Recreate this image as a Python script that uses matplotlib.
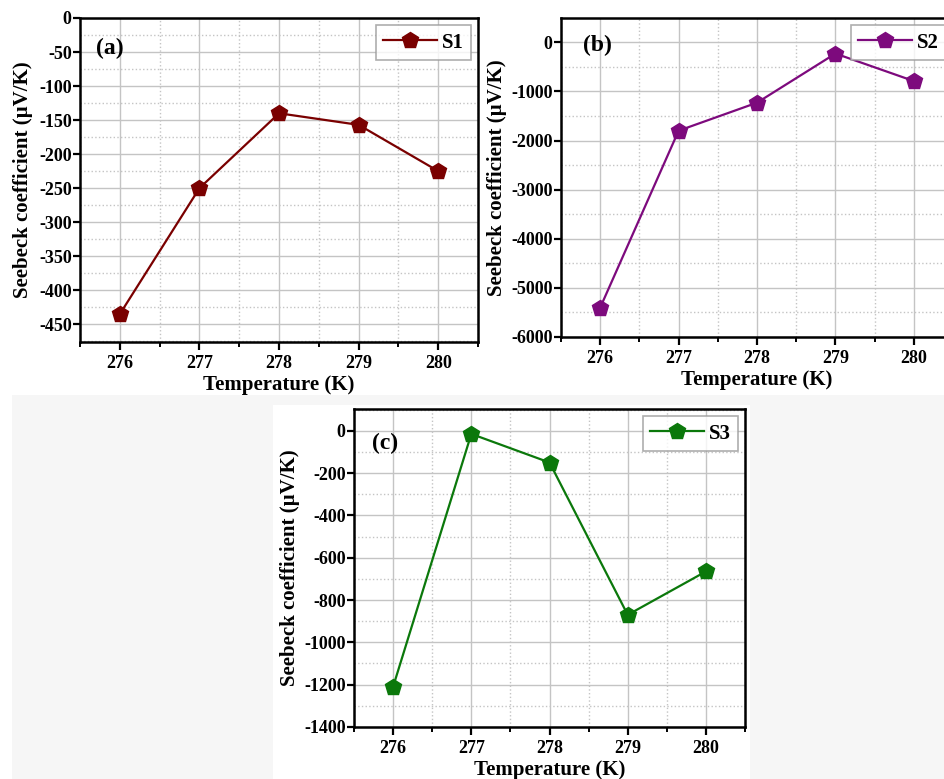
import matplotlib
matplotlib.use("Agg")
from matplotlib import pyplot as plt
from matplotlib.patches import Rectangle
from matplotlib.ticker import MultipleLocator

temps = [276, 277, 278, 279, 280]
s1 = [-435, -250, -140, -157, -225]
s2 = [-5400, -1800, -1230, -230, -790]
s3 = [-1210, -15, -150, -870, -665]

plt.rcParams['font.family'] = ['Liberation Serif', 'DejaVu Serif']
plt.rcParams['font.weight'] = 'bold'
plt.rcParams['axes.labelweight'] = 'bold'
plt.rcParams['axes.unicode_minus'] = False

fig = plt.figure(figsize=(9.45, 7.79), dpi=100)

# grey backdrop behind panel (c) with a white card on it
fig.patches.append(Rectangle((0.0127, 0), 0.9873, 0.4929, transform=fig.transFigure,
                             facecolor='#f6f6f6', edgecolor='none', zorder=-2))
fig.patches.append(Rectangle((0.2889, 0), 0.5048, 0.4801, transform=fig.transFigure,
                             facecolor='white', edgecolor='none', zorder=-1))


def panel(rect, y, color, name, tag, ylim, major, minor, tagpos, ylab_x):
    ax = fig.add_axes(rect)
    ax.plot(temps, y, color=color, marker='p', markersize=12, linewidth=1.6,
            markeredgecolor=color, label=name, zorder=3)
    ax.set_xlim(275.5, 280.5)
    ax.set_ylim(*ylim)
    ax.set_xticks(temps)
    ax.xaxis.set_minor_locator(MultipleLocator(0.5))
    ax.yaxis.set_major_locator(MultipleLocator(major))
    ax.yaxis.set_minor_locator(MultipleLocator(minor))
    ax.grid(which='major', color='#c4c4c4', linewidth=1.0, linestyle='-')
    ax.grid(which='minor', color='#c4c4c4', linewidth=1.0, linestyle=':')
    ax.set_axisbelow(True)
    for s in ax.spines.values():
        s.set_linewidth(1.8)
    ax.tick_params(which='major', direction='out', length=6, width=1.6, labelsize=13)
    ax.tick_params(axis='y', which='major', length=5, pad=1)
    ax.tick_params(axis='x', which='minor', direction='out', length=3.5, width=1.4)
    ax.tick_params(axis='y', which='minor', length=0)
    for lab in ax.get_xticklabels() + ax.get_yticklabels():
        lab.set_fontweight('bold')
    ax.set_xlabel('Temperature (K)', fontsize=15, fontweight='bold', labelpad=2)
    ax.set_ylabel('Seebeck coefficient (\u00b5V/K)', fontsize=15, fontweight='bold')
    # label coords give the right edge of the rotated label
    ax.yaxis.set_label_coords(ylab_x, 0.5)
    ax.text(tagpos[0], tagpos[1], tag, transform=ax.transAxes, fontsize=17,
            fontweight='bold', ha='left', va='center')
    leg = ax.legend(loc='upper right', frameon=True, fancybox=False,
                    borderaxespad=0.35, handlelength=2.6, handletextpad=0.2,
                    borderpad=0.35, prop={'weight': 'bold', 'size': 15})
    leg.get_frame().set_edgecolor('#9a9a9a')
    leg.get_frame().set_linewidth(1.2)
    return ax


panel([0.0847, 0.5610, 0.4212, 0.4159], s1, '#7a0000', 'S1', '(a)',
      (-476, 0), 50, 25, (0.04, 0.907), -0.118)
panel([0.5937, 0.5674, 0.4148, 0.4095], s2, '#7d0a7d', 'S2', '(b)',
      (-6000, 494), 1000, 500, (0.056, 0.915), -0.138)
panel([0.3746, 0.0668, 0.4138, 0.4082], s3, '#0b780b', 'S3', '(c)',
      (-1400, 103), 200, 100, (0.046, 0.893), -0.138)

fig.savefig('out.png', dpi=100)
